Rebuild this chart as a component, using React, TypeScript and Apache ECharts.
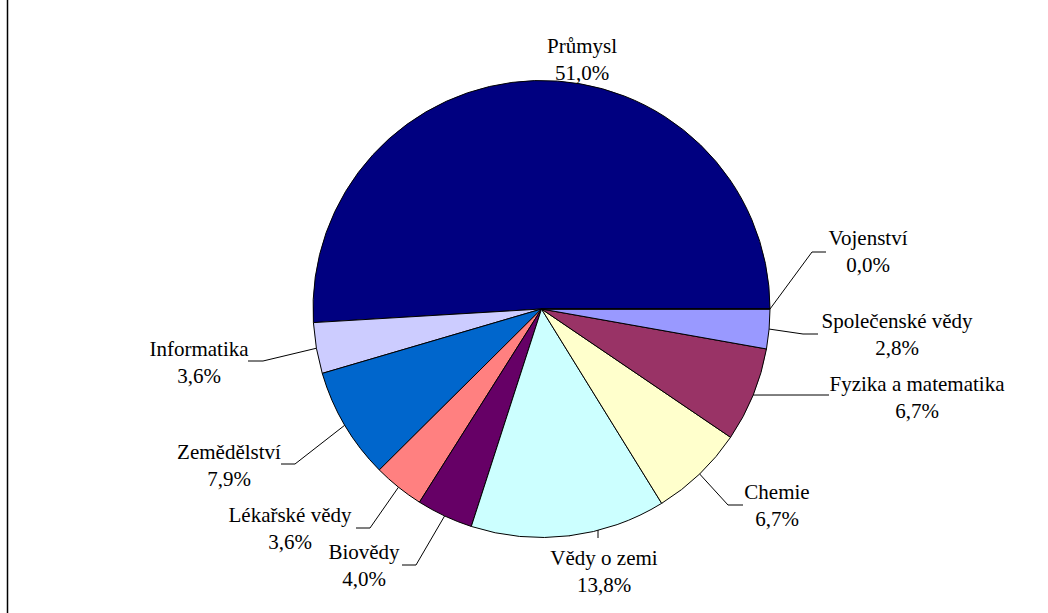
import React, { useEffect, useRef } from "react";
import * as echarts from "echarts";

const categories = [
  "Průmysl",
  "Informatika",
  "Zemědělství",
  "Lékařské vědy",
  "Biovědy",
  "Vědy o zemi",
  "Chemie",
  "Fyzika a matematika",
  "Společenské vědy",
  "Vojenství",
];
const shares = [51.0, 3.6, 7.9, 3.6, 4.0, 13.8, 6.7, 6.7, 2.8, 0.0];
const colors = [
  "#000080",
  "#CCCCFF",
  "#0066CC",
  "#FF8080",
  "#660066",
  "#CCFFFF",
  "#FFFFCC",
  "#993366",
  "#9999FF",
  "#000080",
];

// label block centres (layout only)
const labelPos: [number, number][] = [
  [582, 59],
  [199, 362],
  [229, 465],
  [290, 528],
  [364, 565],
  [604, 571],
  [777, 505],
  [917, 397],
  [897, 334],
  [868, 251],
];
// leader-line elbow and end (layout only); null = no leader
const leaderTail: ([number, number][] | null)[] = [
  null,
  [[263, 361], [248, 361]],
  [[295, 464], [281, 464]],
  [[370, 528], [356, 528]],
  [[416, 565], [402, 565]],
  [[598, 525], [598, 538]],
  [[728, 505], [743, 505]],
  [[810, 395], [829, 395]],
  [[803, 334], [818, 334]],
  [[812, 252], [826, 252]],
];

const fmt = (v: number) => v.toFixed(1).replace(".", ",") + "%";
const FONT = "Liberation Serif";

export default function App() {
  const ref = useRef<HTMLDivElement>(null);
  useEffect(() => {
    if (!ref.current) return;
    const chart = echarts.init(ref.current, null, { renderer: "svg" });
    const data = categories.map((name, i) => ({
      name,
      value: shares[i],
      itemStyle: { color: colors[i] },
      labelLine: { show: leaderTail[i] !== null },
    }));
    chart.setOption({
      animation: false,
      graphic: [
        {
          type: "line",
          shape: { x1: 7.5, y1: 0, x2: 7.5, y2: 613 },
          style: { stroke: "#000000", lineWidth: 1.5 },
        },
      ],
      series: [
        {
          type: "pie",
          center: [541.5, 309],
          radius: 228.5,
          startAngle: 0,
          clockwise: false,
          avoidLabelOverlap: false,
          minShowLabelAngle: 0,
          data,
          itemStyle: { borderColor: "#000000", borderWidth: 1 },
          label: {
            show: true,
            position: "outside",
            formatter: (p: any) => `${p.name}\n${fmt(shares[p.dataIndex])}`,
            fontFamily: FONT,
            fontSize: 21,
            lineHeight: 27,
            color: "#000000",
          },
          labelLine: {
            show: true,
            length: 10,
            length2: 10,
            lineStyle: { color: "#000000", width: 1 },
          },
          labelLayout: (params: any) => {
            const i = params.dataIndex;
            const p = labelPos[i];
            const out: any = {
              x: p[0],
              y: p[1],
              align: "center",
              verticalAlign: "middle",
            };
            const tail = leaderTail[i];
            if (tail && params.labelLinePoints && params.labelLinePoints[0]) {
              out.labelLinePoints = [params.labelLinePoints[0], tail[0], tail[1]];
            }
            return out;
          },
        },
      ],
    });
    return () => chart.dispose();
  }, []);
  return (
    <div
      ref={ref}
      style={{
        position: "fixed",
        left: 0,
        top: 0,
        width: 1048,
        height: 613,
        background: "#ffffff",
      }}
    />
  );
}
